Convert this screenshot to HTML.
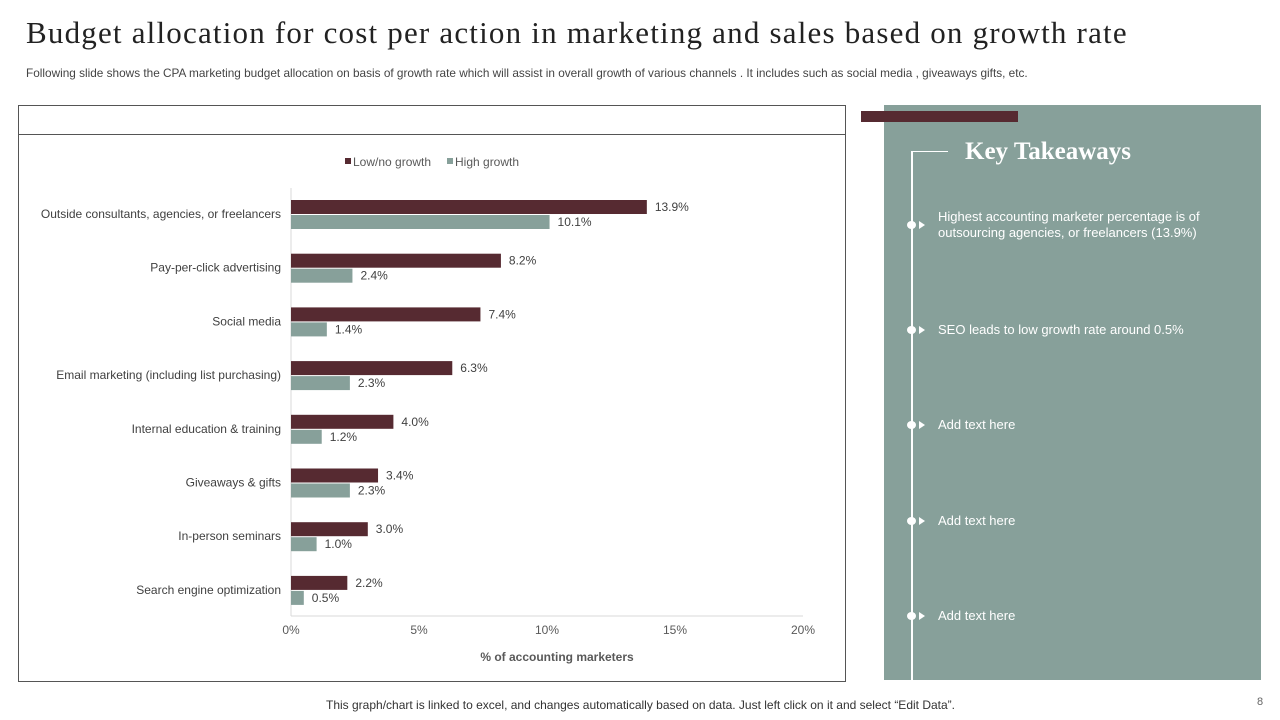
<!DOCTYPE html>
<html><head><meta charset="utf-8"><style>
body{margin:0;width:1280px;height:720px;background:#fff;position:relative;overflow:hidden;font-family:"Liberation Sans",sans-serif;}
.abs{position:absolute;}
</style></head><body>
<div class="abs" style="left:26px;top:15px;font-family:'Liberation Serif',serif;font-size:31px;letter-spacing:1.2px;color:#222;white-space:nowrap;">Budget allocation for cost per action in marketing and sales based on growth rate</div>
<div class="abs" style="left:26px;top:66px;font-size:11.8px;color:#444;white-space:nowrap;">Following slide shows the CPA marketing budget allocation on basis of growth rate which will assist in overall growth of various channels . It includes such as social media , giveaways gifts, etc.</div>
<div class="abs" style="left:18px;top:105px;width:826px;height:575px;border:1px solid #555;"></div>
<div class="abs" style="left:18px;top:134px;width:827px;height:1px;background:#555;"></div>
<svg class="abs" style="left:0;top:0" width="1280" height="720" id="chart"></svg>
<div class="abs" style="left:884px;top:105px;width:377px;height:575px;background:#87a09a;"></div>
<div class="abs" style="left:861px;top:111px;width:157px;height:11px;background:#562a31;"></div>
<div class="abs" style="left:911px;top:151px;width:2px;height:529px;background:#fff;"></div>
<div class="abs" style="left:911px;top:151px;width:37px;height:1px;background:#fff;"></div>
<div class="abs" style="left:965px;top:138px;font-family:'Liberation Serif',serif;font-weight:bold;font-size:25px;color:#fff;">Key Takeaways</div>
<div id="items"></div>
<div class="abs" style="left:326px;top:698px;font-size:12px;color:#333;white-space:nowrap;">This graph/chart is linked to excel, and changes automatically based on data. Just left click on it and select “Edit Data”.</div>
<div class="abs" style="left:1257px;top:696px;font-size:11px;color:#666;">8</div>
<script>
const categories=["Outside consultants, agencies, or freelancers","Pay-per-click advertising","Social media","Email marketing (including list purchasing)","Internal education & training","Giveaways & gifts","In-person seminars","Search engine optimization"];
const lowGrowth=[13.9,8.2,7.4,6.3,4.0,3.4,3.0,2.2];
const highGrowth=[10.1,2.4,1.4,2.3,1.2,2.3,1.0,0.5];
const ticks=[0,5,10,15,20];
const notes=["Highest accounting marketer percentage is of outsourcing agencies, or freelancers (13.9%)","SEO leads to low growth rate around 0.5%","Add text here","Add text here","Add text here"];
const NS="http://www.w3.org/2000/svg";
const svg=document.getElementById('chart');
const x=v=>291+v*25.6;
const y=i=>200+i*53.7;
function el(t,a,txt){const e=document.createElementNS(NS,t);for(const k in a)e.setAttribute(k,a[k]);if(txt!=null)e.textContent=txt;svg.appendChild(e);return e;}
let e;
e=el('line',{x1:291,y1:188,x2:291,y2:616,stroke:'#d9d9d9'});


e=el('line',{x1:291,y1:616,x2:803,y2:616,stroke:'#d9d9d9'});


ticks.forEach(t=>{e=el('text',{x:x(t),y:634,'font-size':12,fill:'#595959','text-anchor':'middle','font-family':'Liberation Sans'},t+'%');

});
e=el('text',{x:557,y:661,'font-size':12,'font-weight':'bold',fill:'#595959','text-anchor':'middle','font-family':'Liberation Sans'},'% of accounting marketers');


categories.forEach((c,i)=>{
 const yy=y(i);
 e=el('text',{x:281,y:yy+18,'font-size':12,fill:'#404040','text-anchor':'end','font-family':'Liberation Sans'},c);
 
 
 e=el('rect',{x:x(0),y:yy,width:x(lowGrowth[i])-x(0),height:14,fill:'#562a31'});
 
 
 e=el('rect',{x:x(0),y:yy+15,width:x(highGrowth[i])-x(0),height:14,fill:'#87a09a'});
 
 
 e=el('text',{x:x(lowGrowth[i])+8,y:yy+11,'font-size':12,fill:'#404040','font-family':'Liberation Sans'},lowGrowth[i].toFixed(1)+'%');
 
 
 e=el('text',{x:x(highGrowth[i])+8,y:yy+26,'font-size':12,fill:'#404040','font-family':'Liberation Sans'},highGrowth[i].toFixed(1)+'%');
 
 
});
e=el('rect',{x:345,y:158,width:6,height:6,fill:'#562a31'});


e=el('text',{x:353,y:166,'font-size':12,fill:'#595959','font-family':'Liberation Sans'},'Low/no growth');


e=el('rect',{x:447,y:158,width:6,height:6,fill:'#87a09a'});


e=el('text',{x:455,y:166,'font-size':12,fill:'#595959','font-family':'Liberation Sans'},'High growth');


const items=document.getElementById('items');
notes.forEach((n,i)=>{
 const cy=225+i*95.5+(i==0?0:9);
 const d=document.createElement('div');
 d.className='abs';
 
 
 d.style.cssText=`left:907px;top:${cy-4}px;width:9px;height:8px;border-radius:50%;background:#fff;`;
 items.appendChild(d);
 const a=document.createElement('div');
 a.className='abs';
 
 
 a.style.cssText=`left:919px;top:${cy-4}px;width:0;height:0;border-left:6px solid #fff;border-top:4px solid transparent;border-bottom:4px solid transparent;`;
 items.appendChild(a);
 const t=document.createElement('div');
 t.className='abs';
 
 
 t.style.cssText=`left:938px;top:${i==0?cy-16:cy-8}px;width:300px;font-size:13px;line-height:16px;color:#fff;`;
 t.textContent=n;
 items.appendChild(t);
});
</script>
</body></html>
